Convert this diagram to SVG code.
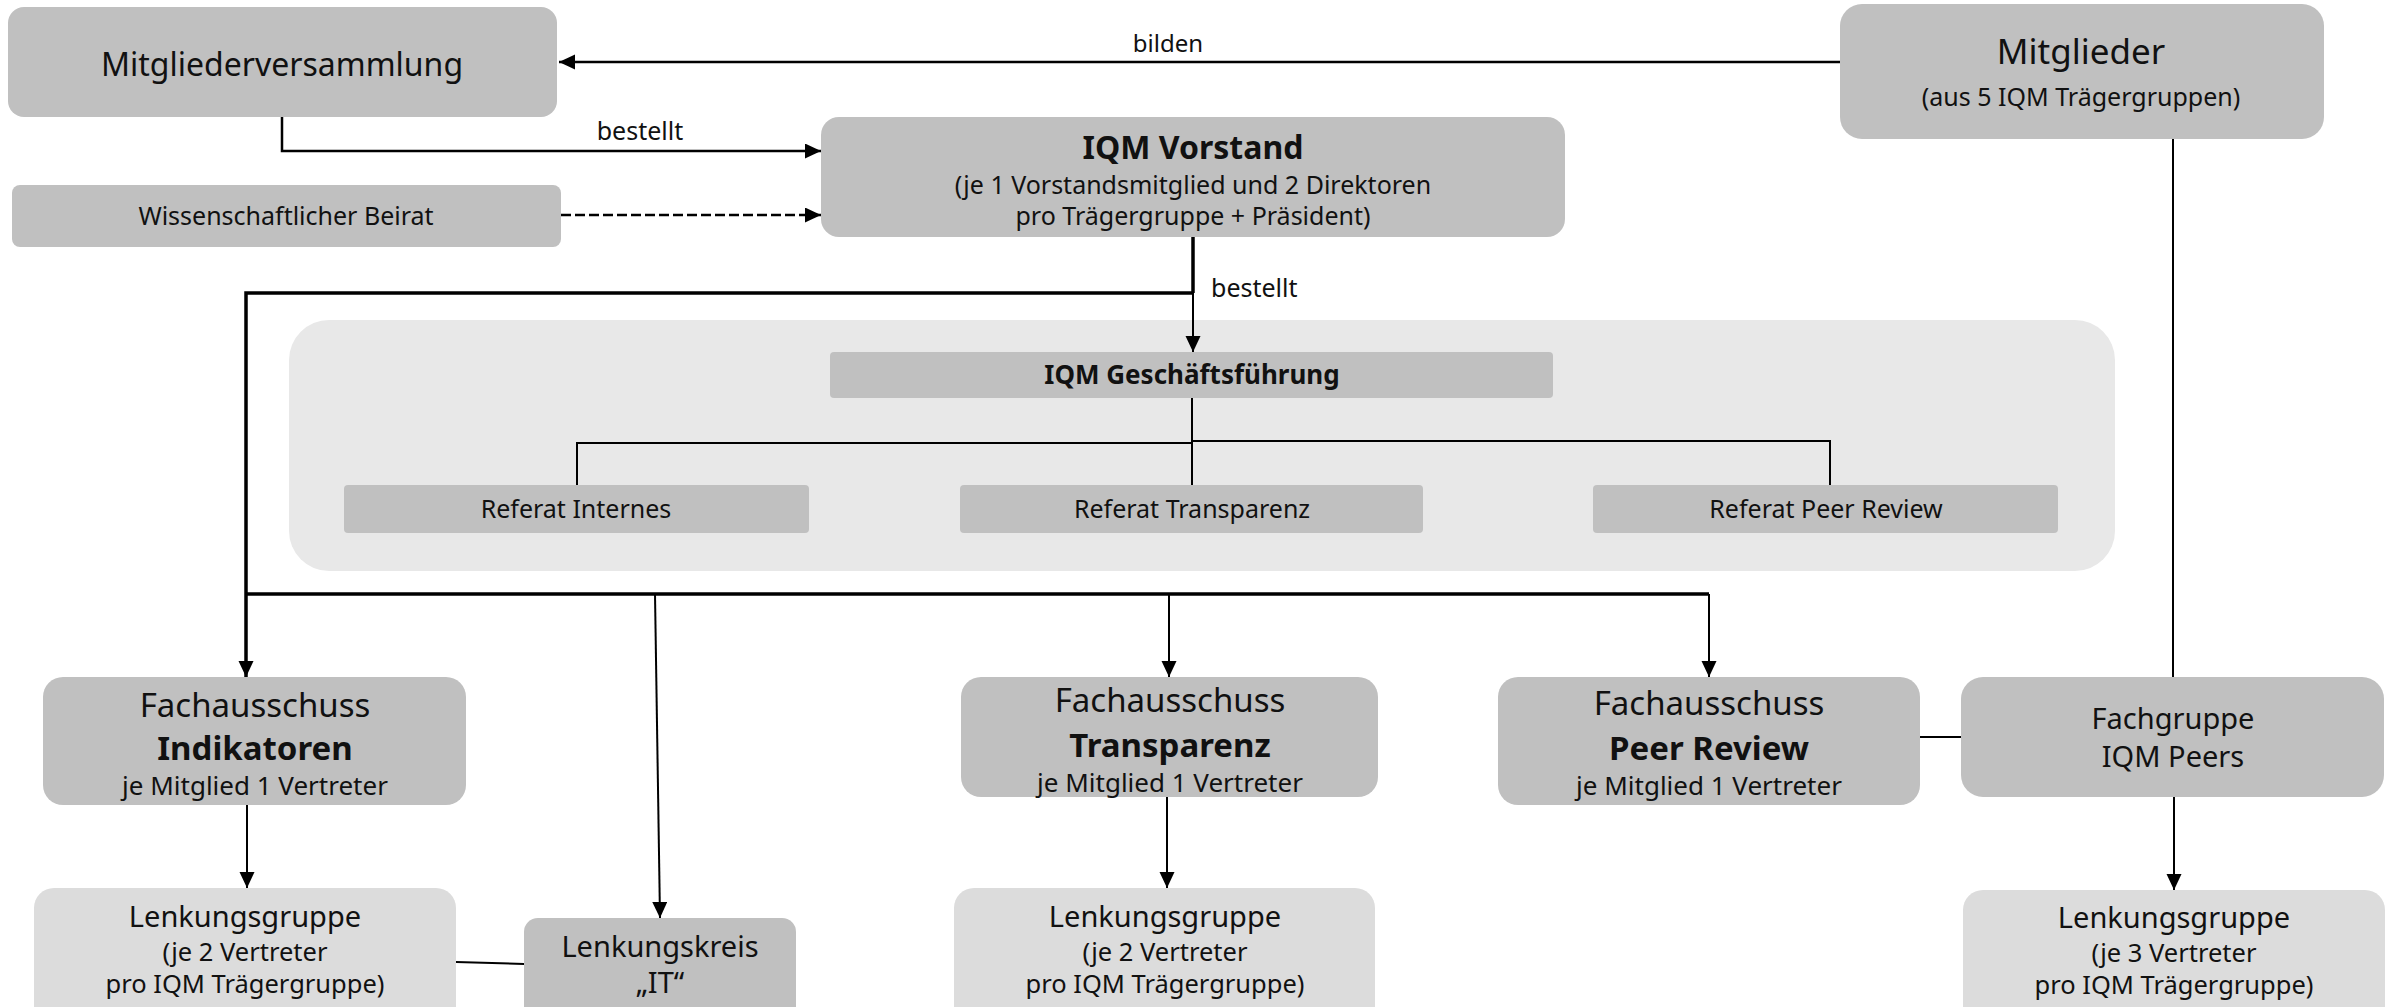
<svg xmlns="http://www.w3.org/2000/svg" width="2400" height="1007" viewBox="0 0 2400 1007">
<style>
text{font-family:"Noto Sans","Open Sans","DejaVu Sans",sans-serif;fill:#111;text-anchor:middle}
.b{font-weight:bold}
.dark{fill:#c0c0c0}
.light{fill:#dcdcdc}
.cont{fill:#e8e8e8}
.ln{fill:none;stroke:#000;stroke-width:2.5}
.th{stroke-width:3.5}
.tn{stroke-width:2}
</style>
<defs>
<marker id="ah" markerUnits="userSpaceOnUse" markerWidth="16" markerHeight="16" refX="16" refY="7.5" orient="auto">
<path d="M0,0 L16,7.5 L0,15 z" fill="#000"/>
</marker>
</defs>
<rect id="container" class="cont" x="289" y="320" width="1826" height="251" rx="40"/>
<g id="connectors">
<path class="ln" d="M1840,62 H559" marker-end="url(#ah)"/>
<path class="ln" d="M282,117 V151 H821" marker-end="url(#ah)"/>
<path class="ln" d="M561,215 H821" stroke-dasharray="10 4" marker-end="url(#ah)"/>
<path class="ln th" d="M1193,237 V293"/>
<path class="ln tn" d="M1193,293 V352" marker-end="url(#ah)"/>
<path class="ln th" d="M1193,293 H246 V677" marker-end="url(#ah)"/>
<path class="ln th" d="M246,594 H1709"/>
<path class="ln tn" d="M655,594 L660,918" marker-end="url(#ah)"/>
<path class="ln tn" d="M1169,594 V677" marker-end="url(#ah)"/>
<path class="ln tn" d="M1709,594 V677" marker-end="url(#ah)"/>
<path class="ln tn" d="M1192,398 V485"/>
<path class="ln tn" d="M577,485 V443 H1192"/>
<path class="ln tn" d="M1192,441 H1830 V485"/>
<path class="ln tn" d="M247,805 V888" marker-end="url(#ah)"/>
<path class="ln tn" d="M1167,797 V888" marker-end="url(#ah)"/>
<path class="ln tn" d="M456,962 L524,964"/>
<path class="ln tn" d="M1920,737 H1961"/>
<path class="ln tn" d="M2173,139 V677"/>
<path class="ln tn" d="M2174,797 V890" marker-end="url(#ah)"/>
</g>
<text x="1168" y="52" font-size="24">bilden</text>
<text x="640" y="140" font-size="25">bestellt</text>
<text x="1211" y="297" font-size="25" style="text-anchor:start">bestellt</text>
<g id="mitgliederversammlung">
<rect class="dark" x="8" y="7" width="549" height="110" rx="16"/>
<text x="282" y="76" font-size="32">Mitgliederversammlung</text>
</g>
<g id="mitglieder">
<rect class="dark" x="1840" y="4" width="484" height="135" rx="22"/>
<text x="2081" y="64" font-size="35">Mitglieder</text>
<text x="2081" y="106" font-size="25">(aus 5 IQM Trägergruppen)</text>
</g>
<g id="vorstand">
<rect class="dark" x="821" y="117" width="744" height="120" rx="18"/>
<text class="b" x="1193" y="159" font-size="32">IQM Vorstand</text>
<text x="1193" y="194" font-size="25">(je 1 Vorstandsmitglied und 2 Direktoren</text>
<text x="1193" y="225" font-size="25">pro Trägergruppe + Präsident)</text>
</g>
<g id="beirat">
<rect class="dark" x="12" y="185" width="549" height="62" rx="8"/>
<text x="286" y="225" font-size="25">Wissenschaftlicher Beirat</text>
</g>
<g id="geschaeftsfuehrung">
<rect class="dark" x="830" y="352" width="723" height="46" rx="4"/>
<text class="b" x="1192" y="384" font-size="26">IQM Geschäftsführung</text>
</g>
<g id="ref-internes">
<rect class="dark" x="344" y="485" width="465" height="48" rx="4"/>
<text x="576" y="518" font-size="25">Referat Internes</text>
</g>
<g id="ref-transparenz">
<rect class="dark" x="960" y="485" width="463" height="48" rx="4"/>
<text x="1192" y="518" font-size="25">Referat Transparenz</text>
</g>
<g id="ref-peer">
<rect class="dark" x="1593" y="485" width="465" height="48" rx="4"/>
<text x="1826" y="518" font-size="25">Referat Peer Review</text>
</g>
<g id="fa-indikatoren">
<rect class="dark" x="43" y="677" width="423" height="128" rx="20"/>
<text x="255" y="717" font-size="33">Fachausschuss</text>
<text class="b" x="255" y="760" font-size="33">Indikatoren</text>
<text x="255" y="795" font-size="26">je Mitglied 1 Vertreter</text>
</g>
<g id="fa-transparenz">
<rect class="dark" x="961" y="677" width="417" height="120" rx="20"/>
<text x="1170" y="712" font-size="33">Fachausschuss</text>
<text class="b" x="1170" y="757" font-size="33">Transparenz</text>
<text x="1170" y="792" font-size="26">je Mitglied 1 Vertreter</text>
</g>
<g id="fa-peer">
<rect class="dark" x="1498" y="677" width="422" height="128" rx="20"/>
<text x="1709" y="715" font-size="33">Fachausschuss</text>
<text class="b" x="1709" y="760" font-size="33">Peer Review</text>
<text x="1709" y="795" font-size="26">je Mitglied 1 Vertreter</text>
</g>
<g id="fachgruppe">
<rect class="dark" x="1961" y="677" width="423" height="120" rx="22"/>
<text x="2173" y="729" font-size="29">Fachgruppe</text>
<text x="2173" y="767" font-size="29">IQM Peers</text>
</g>
<g id="lg-indikatoren">
<rect class="light" x="34" y="888" width="422" height="140" rx="20"/>
<text x="245" y="927" font-size="29">Lenkungsgruppe</text>
<text x="245" y="961" font-size="25.5">(je 2 Vertreter</text>
<text x="245" y="993" font-size="25.5">pro IQM Trägergruppe)</text>
</g>
<g id="lenkungskreis-it">
<rect class="dark" x="524" y="918" width="272" height="110" rx="14"/>
<text x="660" y="957" font-size="29">Lenkungskreis</text>
<text x="660" y="993" font-size="29">„IT“</text>
</g>
<g id="lg-transparenz">
<rect class="light" x="954" y="888" width="421" height="140" rx="20"/>
<text x="1165" y="927" font-size="29">Lenkungsgruppe</text>
<text x="1165" y="961" font-size="25.5">(je 2 Vertreter</text>
<text x="1165" y="993" font-size="25.5">pro IQM Trägergruppe)</text>
</g>
<g id="lg-peers">
<rect class="light" x="1963" y="890" width="422" height="140" rx="20"/>
<text x="2174" y="928" font-size="29">Lenkungsgruppe</text>
<text x="2174" y="962" font-size="25.5">(je 3 Vertreter</text>
<text x="2174" y="994" font-size="25.5">pro IQM Trägergruppe)</text>
</g>
</svg>
